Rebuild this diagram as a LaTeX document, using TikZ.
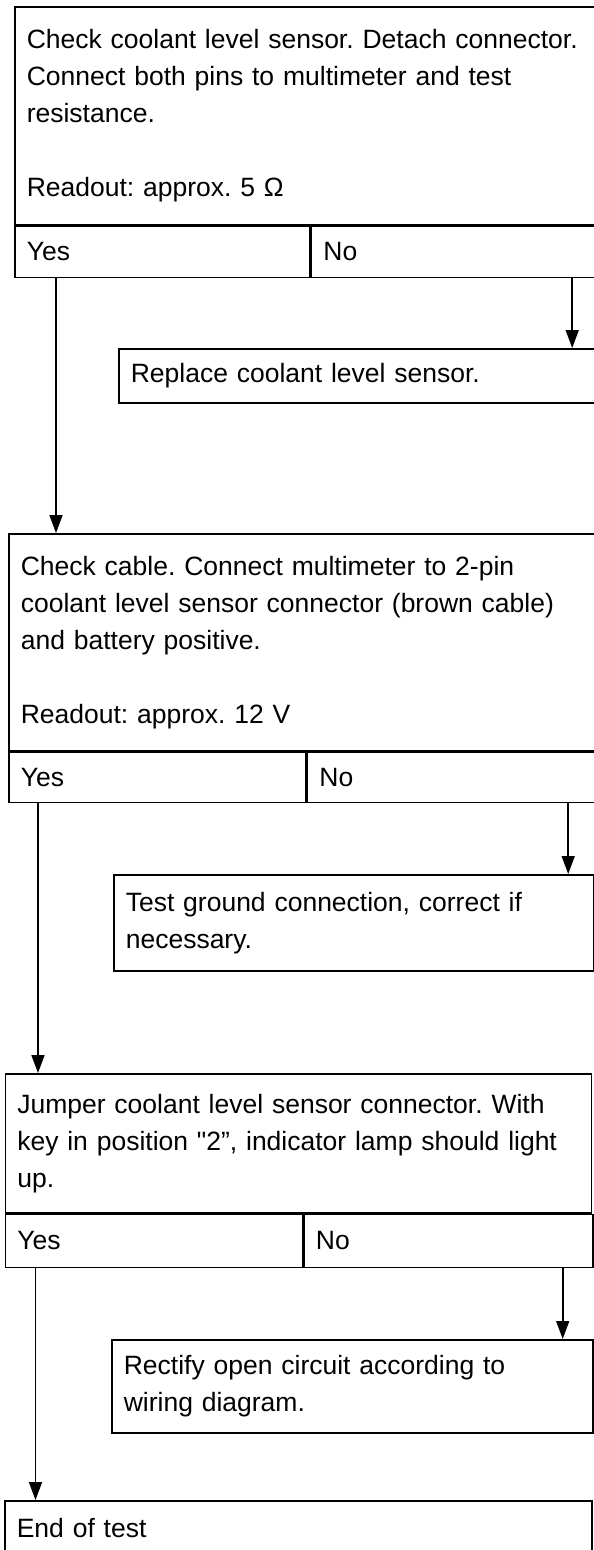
\documentclass[tikz,border=0pt]{standalone}
\usepackage{fontspec}
\setmainfont{Liberation Sans}
\usetikzlibrary{arrows.meta,positioning}
\newcommand{\stepfont}{\fontsize{26.5}{37}\selectfont\frenchspacing}

\begin{document}
\begin{tikzpicture}[
    x=1pt, y=-1pt,
    line width=1.6pt,
    stepbox/.style={rectangle, draw, anchor=north west, inner xsep=12pt, inner ysep=0pt, align=left, font=\stepfont},
    arrow/.style={-{Triangle[length=18pt,width=13pt]}}
]
\useasboundingbox (0,0) rectangle (594,1550);

% Step 1: sensor resistance
\node[stepbox, minimum width=582pt, minimum height=218pt, text width=558pt] (chk1) at (14,6)
    {Check coolant level sensor. Detach connector.\\Connect both pins to multimeter and test\\resistance.\\[37pt]Readout: approx. 5 Ω};
\node[stepbox, minimum width=295pt, minimum height=51pt, text width=271pt] (yes1) at (chk1.south west) {Yes};
\node[stepbox, minimum width=287pt, minimum height=51pt, text width=263pt] (no1) at (yes1.north east) {No};
\node[stepbox, minimum width=478pt, minimum height=54pt, text width=454pt] (fix1) at (118,348) {Replace coolant level sensor.};

% Step 2: cable
\node[stepbox, minimum width=588pt, minimum height=217pt, text width=564pt] (chk2) at (8,533)
    {Check cable. Connect multimeter to 2-pin\\coolant level sensor connector (brown cable)\\and battery positive.\\[37pt]Readout: approx. 12 V};
\node[stepbox, minimum width=297pt, minimum height=50pt, text width=273pt] (yes2) at (chk2.south west) {Yes};
\node[stepbox, minimum width=291pt, minimum height=50pt, text width=267pt] (no2) at (yes2.north east) {No};
\node[stepbox, minimum width=480pt, minimum height=96pt, text width=456pt] (fix2) at (113,874) {Test ground connection, correct if\\necessary.};

% Step 3: jumper
\node[stepbox, minimum width=586pt, minimum height=139pt, text width=562pt] (chk3) at (4.5,1073)
    {Jumper coolant level sensor connector. With\\key in position \textquotedbl{}2”, indicator lamp should light\\up.};
\node[stepbox, minimum width=297pt, minimum height=53pt, text width=273pt] (yes3) at (chk3.south west) {Yes};
\node[stepbox, minimum width=289pt, minimum height=53pt, text width=265pt] (no3) at (yes3.north east) {No};
\node[stepbox, minimum width=481pt, minimum height=93pt, text width=457pt] (fix3) at (111,1339) {Rectify open circuit according to\\wiring diagram.};

\node[stepbox, minimum width=587pt, minimum height=54pt, text width=563pt] (done) at (4,1500) {End of test};

% Connections
\draw[arrow] ([xshift=42pt]yes1.south west) -- ([xshift=42pt]yes1.south west |- chk2.north);
\draw[arrow] ([xshift=-27pt]no1.south east) -- ([xshift=-27pt]no1.south east |- fix1.north);
\draw[arrow] ([xshift=30pt]yes2.south west) -- ([xshift=30pt]yes2.south west |- chk3.north);
\draw[arrow] ([xshift=-31pt]no2.south east) -- ([xshift=-31pt]no2.south east |- fix2.north);
\draw[arrow] ([xshift=31pt]yes3.south west) -- ([xshift=31pt]yes3.south west |- done.north);
\draw[arrow] ([xshift=-31pt]no3.south east) -- ([xshift=-31pt]no3.south east |- fix3.north);

\end{tikzpicture}
\end{document}
